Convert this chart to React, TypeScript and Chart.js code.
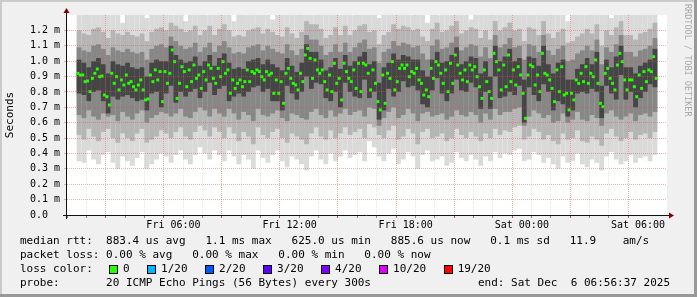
import { useEffect, useRef } from 'react';
import { Chart, registerables } from 'chart.js';

Chart.register(...registerables);

// time axis: hours since Fri 00:00
const X_MIN = 1;
const X_MAX = 31;
const SLOT_HOURS = 0.25; // smoke column width
const MED_HOURS = 0.125; // median sample spacing

const xTickHours = [6, 12, 18, 24, 30];
const xTickLabels = ['Fri 06:00', 'Fri 12:00', 'Fri 18:00', 'Sat 00:00', 'Sat 06:00'];
const yTickLabels = ['0.0  ', '0.1 m', '0.2 m', '0.3 m', '0.4 m', '0.5 m', '0.6 m', '0.7 m', '0.8 m', '0.9 m', '1.0 m', '1.1 m', '1.2 m'];

// round trip times in microseconds
const medianRtt = [
  921, 910, 910, 867, 871, 802, 888, 921, 949, 899, 903, 780, 769, 715, 921, 856, 899, 813, 878, 845,
  910, 856, 867, 834, 813, 845, 878, 813, 748, 754, 910, 867, 943, 878, 932, 737, 932, 856, 921, 1073,
  997, 758, 856, 964, 932, 834, 943, 867, 975, 888, 910, 823, 932, 878, 975, 953, 888, 856, 953, 899,
  997, 921, 943, 791, 878, 823, 856, 878, 834, 867, 943, 867, 932, 921, 943, 932, 899, 878, 932, 910,
  921, 791, 878, 791, 867, 726, 921, 953, 888, 856, 845, 813, 921, 867, 1040, 1083, 1018, 888, 1008, 943,
  921, 943, 867, 813, 910, 802, 986, 856, 888, 748, 986, 932, 888, 867, 943, 823, 986, 802, 986, 975,
  921, 813, 943, 856, 737, 683, 910, 726, 921, 888, 997, 813, 867, 953, 975, 953, 975, 899, 932, 921,
  953, 878, 856, 780, 813, 769, 953, 888, 997, 975, 921, 856, 943, 802, 986, 856, 1040, 975, 921, 878,
  943, 867, 975, 943, 964, 899, 834, 758, 943, 867, 802, 758, 1051, 997, 943, 813, 975, 834, 1040, 867,
  943, 845, 964, 910, 791, 628, 910, 975, 964, 845, 910, 802, 1051, 921, 910, 878, 823, 737, 943, 802,
  964, 780, 791, 683, 791, 748, 878, 856, 921, 867, 964, 856, 921, 899, 1008, 856, 726, 704, 921, 953,
  888, 856, 813, 975, 1051, 997, 878, 813, 878, 878, 834, 769, 910, 823, 932, 867, 943, 932, 1029, 888,
];

const smokeMin = [
  350, 340, 420, 360, 330, 390, 410, 340, 300, 380, 350, 320, 370, 410, 300, 330, 360, 400, 380, 340,
  390, 420, 360, 330, 390, 440, 400, 360, 420, 390, 350, 420, 380, 330, 390, 360, 300, 420, 370, 340,
  390, 420, 350, 310, 380, 360, 330, 290, 380, 420, 360, 330, 400, 350, 380, 420, 370, 390, 410, 350,
  480, 440, 380, 350, 400, 430, 330, 360, 410, 380, 300, 390, 420, 350, 360, 380, 320, 340, 410, 370,
  350, 390, 360, 320, 380, 350, 410, 370, 400, 390, 420, 430, 350, 360, 410, 390, 340, 370, 330, 300,
  380, 340, 350, 400, 330, 310, 360, 340, 290, 380, 410, 360, 330, 350, 390, 340, 370, 380, 350, 390,
];
const smokeP10 = [
  520, 490, 560, 510, 480, 540, 560, 500, 470, 530, 500, 480, 530, 560, 470, 490, 510, 550, 530, 500,
  540, 570, 510, 490, 540, 580, 550, 510, 570, 540, 500, 570, 530, 480, 540, 510, 460, 570, 520, 500,
  540, 560, 500, 470, 530, 510, 490, 460, 530, 570, 510, 490, 550, 500, 530, 570, 520, 540, 560, 500,
  590, 570, 520, 500, 550, 580, 490, 510, 560, 530, 460, 540, 560, 500, 510, 530, 480, 500, 560, 520,
  500, 540, 510, 480, 530, 500, 560, 520, 550, 540, 570, 580, 490, 510, 560, 540, 490, 520, 480, 460,
  530, 490, 500, 550, 480, 470, 510, 490, 450, 530, 560, 510, 480, 500, 540, 490, 520, 530, 500, 540,
];
const smokeP25 = [
  650, 630, 680, 640, 620, 660, 640, 650, 610, 670, 640, 620, 660, 680, 600, 630, 650, 670, 660, 640,
  660, 690, 640, 630, 670, 700, 680, 640, 690, 660, 640, 690, 660, 620, 670, 650, 610, 690, 650, 640,
  660, 680, 630, 610, 660, 650, 630, 620, 670, 690, 650, 630, 680, 640, 660, 690, 650, 670, 680, 640,
  700, 690, 580, 630, 670, 700, 630, 650, 690, 660, 610, 660, 670, 640, 650, 660, 620, 640, 680, 650,
  640, 670, 650, 600, 660, 620, 690, 650, 670, 670, 690, 700, 580, 640, 680, 660, 630, 650, 600, 610,
  660, 600, 620, 670, 620, 610, 650, 630, 580, 660, 680, 640, 620, 640, 660, 610, 650, 660, 640, 670,
];
const smokeP40 = [
  790, 780, 740, 800, 810, 740, 660, 770, 750, 770, 780, 760, 740, 750, 680, 790, 800, 700, 790, 840,
  730, 800, 770, 800, 820, 760, 800, 860, 780, 820, 840, 740, 770, 790, 770, 800, 830, 840, 800, 820,
  740, 740, 680, 840, 790, 750, 800, 900, 820, 860, 850, 760, 740, 800, 700, 860, 800, 770, 760, 880,
  760, 800, 620, 680, 820, 770, 800, 870, 830, 840, 810, 720, 700, 810, 890, 790, 740, 790, 880, 810,
  800, 860, 830, 690, 800, 690, 900, 760, 770, 800, 780, 840, 600, 830, 780, 740, 850, 800, 680, 740,
  720, 640, 680, 790, 800, 790, 820, 800, 630, 840, 790, 750, 910, 750, 800, 700, 760, 800, 850, 830,
];
const smokeP60 = [
  1010, 990, 960, 1000, 1020, 980, 920, 1000, 980, 970, 990, 960, 950, 960, 900, 990, 1010, 1000, 1000, 1100,
  1040, 1010, 990, 1000, 1030, 970, 1000, 1040, 970, 1020, 1050, 990, 950, 960, 950, 1000, 1010, 1020, 980, 1010,
  980, 960, 940, 1020, 970, 930, 990, 1110, 1060, 1060, 1010, 940, 960, 1020, 950, 1040, 970, 1000, 1030, 1060,
  980, 1000, 860, 960, 990, 1050, 1010, 1040, 1030, 1010, 1010, 940, 900, 1010, 1060, 990, 1000, 1040, 1090, 980,
  1000, 1030, 1020, 920, 1000, 900, 1100, 1000, 1030, 1080, 1000, 1020, 880, 1030, 1020, 970, 1100, 980, 920, 990,
  1010, 880, 880, 950, 980, 1020, 980, 1060, 840, 1010, 960, 1030, 1100, 960, 960, 920, 970, 990, 1010, 1080,
];
const smokeP75 = [
  1090, 1070, 1060, 1100, 1110, 1080, 1040, 1090, 1070, 1060, 1080, 1060, 1050, 1060, 1010, 1080, 1100, 1110, 1090, 1160,
  1130, 1100, 1080, 1090, 1120, 1060, 1090, 1120, 1060, 1100, 1130, 1090, 1050, 1060, 1050, 1090, 1100, 1110, 1070, 1100,
  1080, 1060, 1050, 1110, 1070, 1040, 1080, 1170, 1140, 1140, 1100, 1040, 1060, 1110, 1060, 1120, 1060, 1090, 1120, 1140,
  1080, 1090, 990, 1060, 1080, 1130, 1100, 1120, 1110, 1090, 1100, 1050, 1010, 1100, 1140, 1080, 1090, 1120, 1160, 1070,
  1090, 1110, 1100, 1030, 1090, 1020, 1170, 1090, 1110, 1150, 1090, 1100, 1010, 1110, 1100, 1060, 1170, 1070, 1040, 1080,
  1100, 1000, 1010, 1050, 1070, 1100, 1070, 1140, 980, 1090, 1060, 1110, 1170, 1060, 1060, 1030, 1070, 1080, 1100, 1150,
];
const smokeP90 = [
  1200, 1180, 1170, 1210, 1220, 1190, 1150, 1200, 1180, 1170, 1190, 1170, 1160, 1180, 1130, 1190, 1210, 1220, 1200, 1250,
  1230, 1210, 1190, 1200, 1230, 1170, 1200, 1230, 1170, 1210, 1240, 1200, 1160, 1170, 1160, 1200, 1210, 1220, 1180, 1210,
  1190, 1170, 1160, 1220, 1180, 1150, 1190, 1260, 1240, 1240, 1210, 1150, 1170, 1220, 1170, 1230, 1170, 1200, 1230, 1240,
  1190, 1200, 1110, 1170, 1190, 1240, 1210, 1230, 1220, 1200, 1210, 1160, 1130, 1210, 1250, 1190, 1200, 1230, 1260, 1180,
  1200, 1220, 1210, 1150, 1200, 1140, 1260, 1200, 1220, 1250, 1200, 1210, 1130, 1220, 1210, 1170, 1260, 1180, 1150, 1190,
  1210, 1120, 1130, 1160, 1180, 1210, 1180, 1240, 1100, 1200, 1170, 1220, 1260, 1170, 1170, 1140, 1180, 1190, 1210, 1250,
];
const smokeMax = [
  1300, 1300, 1300, 1300, 1300, 1300, 1300, 1300, 1300, 1250, 1300, 1300, 1300, 1300, 1280, 1300, 1300, 1300, 1300, 1300,
  1300, 1300, 1260, 1300, 1300, 1300, 1300, 1300, 1300, 1300, 1300, 1300, 1260, 1300, 1300, 1300, 1300, 1300, 1300, 1300,
  1270, 1300, 1300, 1300, 1300, 1300, 1300, 1300, 1300, 1300, 1300, 1300, 1300, 1300, 1300, 1300, 1300, 1300, 1300, 1300,
  1300, 1300, 1280, 1300, 1300, 1300, 1300, 1300, 1300, 1300, 1300, 1300, 1250, 1300, 1300, 1300, 1300, 1300, 1300, 1300,
  1300, 1270, 1300, 1300, 1300, 1300, 1300, 1300, 1300, 1300, 1300, 1300, 1300, 1300, 1300, 1300, 1300, 1300, 1300, 1300,
  1300, 1260, 1300, 1300, 1300, 1300, 1300, 1300, 1300, 1300, 1280, 1300, 1300, 1300, 1300, 1300, 1300, 1300, 1300, 1300,
];

const legendLine1 = 'median rtt:  883.4 us avg   1.1 ms max   625.0 us min   885.6 us now   0.1 ms sd   11.9    am/s';
const legendLine2 = 'packet loss: 0.00 % avg   0.00 % max   0.00 % min   0.00 % now';
const legendLine3 = 'loss color:';
const lossLabels = ['0', '1/20', '2/20', '3/20', '4/20', '10/20', '19/20'];
const lossColors = ['#26ff00', '#00b8ff', '#0059ff', '#5e00ff', '#7e00ff', '#dd00ff', '#ff0000'];
const probeLabel = 'probe:       20 ICMP Echo Pings (56 Bytes) every 300s';
const endLabel = 'end: Sat Dec  6 06:56:37 2025';
const yTitle = 'Seconds';
const watermark = 'RRDTOOL / TOBI OETIKER';

const MGRID = 'rgba(225,80,80,0.45)';
const GRID = 'rgba(150,150,150,0.25)';
const CLEAR = 'rgba(0,0,0,0)';
const MONO = '"DejaVu Sans Mono", monospace';

const band = (lo: number[], hi: number[]) =>
  lo.map((v, i) => ({ x: X_MIN + SLOT_HOURS * (i + 0.5), y: [v, hi[i]] }));

const rrdPlugin = {
  id: 'rrdDecor',
  beforeDraw(chart: any) {
    const { ctx, chartArea: a } = chart;
    ctx.save();
    ctx.fillStyle = '#ffffff';
    ctx.fillRect(a.left, a.top, a.right - a.left, a.bottom - a.top);
    ctx.restore();
  },
  afterDraw(chart: any) {
    const { ctx, chartArea: a } = chart;
    ctx.save();
    ctx.strokeStyle = '#111111';
    ctx.lineWidth = 1;
    ctx.beginPath();
    ctx.moveTo(a.left - 4, a.bottom + 0.5);
    ctx.lineTo(a.right + 3, a.bottom + 0.5);
    ctx.moveTo(a.left - 0.5, a.bottom + 4);
    ctx.lineTo(a.left - 0.5, a.top - 3);
    ctx.stroke();
    ctx.fillStyle = '#7f0000';
    ctx.beginPath();
    ctx.moveTo(a.right + 2, a.bottom - 2.5);
    ctx.lineTo(a.right + 7, a.bottom + 0.5);
    ctx.lineTo(a.right + 2, a.bottom + 3.5);
    ctx.closePath();
    ctx.fill();
    ctx.beginPath();
    ctx.moveTo(a.left - 3.5, a.top - 2);
    ctx.lineTo(a.left - 0.5, a.top - 7);
    ctx.lineTo(a.left + 2.5, a.top - 2);
    ctx.closePath();
    ctx.fill();
    ctx.restore();
  },
};

export default function App() {
  const ref = useRef<HTMLCanvasElement | null>(null);

  useEffect(() => {
    const canvas = ref.current;
    if (!canvas) return;
    const medPoints = medianRtt.map((v, i) => ({ x: X_MIN + MED_HOURS * (i + 0.5), y: v }));
    const chart = new Chart(canvas, {
      type: 'bar',
      data: {
        datasets: [
          {
            type: 'line',
            data: medPoints,
            showLine: false,
            pointStyle: 'rect',
            pointRadius: 2.1,
            pointHoverRadius: 2.1,
            pointBorderWidth: 0,
            pointBackgroundColor: '#26ff00',
            order: 0,
          } as any,
          { data: band(smokeP40, smokeP60), backgroundColor: '#454545', order: 1 } as any,
          { data: band(smokeP25, smokeP75), backgroundColor: '#878787', order: 2 } as any,
          { data: band(smokeP10, smokeP90), backgroundColor: '#b5b5b5', order: 3 } as any,
          { data: band(smokeMin, smokeMax), backgroundColor: '#dadada', order: 4 } as any,
        ],
      },
      options: {
        animation: false,
        responsive: false,
        events: [],
        datasets: {
          bar: { grouped: false, barPercentage: 1, categoryPercentage: 1, inflateAmount: 0, borderWidth: 0 } as any,
        },
        layout: { padding: { left: 0, top: 15, right: 30, bottom: 62 } },
        plugins: { legend: { display: false }, tooltip: { enabled: false }, title: { display: false } },
        scales: {
          x: {
            type: 'linear',
            min: X_MIN,
            max: X_MAX,
            afterFit: (s: any) => { s.height = 20; },
            ticks: {
              stepSize: 1,
              autoSkip: false,
              maxRotation: 0,
              padding: 1,
              color: '#000',
              font: { family: MONO, size: 10 },
              callback: (v: any) => {
                const k = xTickHours.indexOf(Number(v));
                return k >= 0 ? xTickLabels[k] : '';
              },
            },
            grid: {
              z: 1,
              lineWidth: 1,
              drawTicks: true,
              tickLength: 3,
              borderDash: [1, 1],
              color: (c: any) => {
                const v = c.tick ? c.tick.value : null;
                if (v == null || v <= X_MIN || v >= X_MAX) return CLEAR;
                return v % 3 === 0 ? MGRID : GRID;
              },
              tickColor: (c: any) => {
                const v = c.tick ? c.tick.value : null;
                if (v == null || v >= X_MAX) return CLEAR;
                return v % 3 === 0 ? 'rgba(130,30,30,0.7)' : 'rgba(60,60,60,0.6)';
              },
            } as any,
            border: { display: false, dash: [1, 1] } as any,
          },
          y: {
            type: 'linear',
            min: 0,
            max: 1300,
            afterFit: (s: any) => { s.width = 67; },
            ticks: {
              stepSize: 100,
              padding: 4,
              color: '#000',
              font: { family: MONO, size: 10 },
              callback: (v: any) => {
                const k = Math.round(Number(v) / 100);
                return yTickLabels[k] ?? '';
              },
            },
            grid: {
              z: 1,
              lineWidth: 1,
              drawTicks: true,
              tickLength: 3,
              borderDash: [1, 1],
              color: (c: any) => {
                const v = c.tick ? c.tick.value : null;
                if (v == null || v <= 0 || v >= 1300) return CLEAR;
                return MGRID;
              },
              tickColor: (c: any) => {
                const v = c.tick ? c.tick.value : null;
                if (v == null || v >= 1300) return CLEAR;
                return MGRID;
              },
            } as any,
            border: { display: false, dash: [1, 1] } as any,
          },
        },
      } as any,
      plugins: [rrdPlugin],
    });
    return () => chart.destroy();
  }, []);

  const txt: any = {
    position: 'absolute',
    fontFamily: MONO,
    fontSize: 11,
    lineHeight: '14px',
    whiteSpace: 'pre',
    color: '#000',
  };

  let cursor = 109;
  const lossItems = lossLabels.map((lab, i) => {
    const boxLeft = cursor;
    const textLeft = boxLeft + 14;
    cursor = textLeft + lab.length * 6.62 + 17.5;
    return (
      <span key={lab}>
        <span
          style={{
            position: 'absolute',
            left: boxLeft,
            top: 265,
            width: 7,
            height: 7,
            border: '1px solid #000',
            background: lossColors[i],
          }}
        />
        <span style={{ ...txt, left: textLeft, top: 262 }}>{lab}</span>
      </span>
    );
  });

  return (
    <div
      style={{
        position: 'absolute',
        left: 0,
        top: 0,
        width: 697,
        height: 297,
        background: '#f0f0f0',
        overflow: 'hidden',
      }}
    >
      <canvas ref={ref} width={697} height={297} style={{ position: 'absolute', left: 0, top: 0, width: 697, height: 297 }} />
      <div style={{ position: 'absolute', left: 0, top: 0, width: 697, height: 2, background: '#cbcbcb' }} />
      <div style={{ position: 'absolute', left: 0, top: 0, width: 2, height: 297, background: '#cbcbcb' }} />
      <div style={{ position: 'absolute', left: 0, top: 294, width: 697, height: 3, background: '#999999' }} />
      <div style={{ position: 'absolute', left: 694, top: 0, width: 3, height: 297, background: '#999999' }} />
      <div
        style={{
          ...txt,
          left: -40,
          top: 108,
          width: 100,
          height: 14,
          textAlign: 'center',
          transform: 'rotate(-90deg)',
        }}
      >
        {yTitle}
      </div>
      <div
        style={{
          position: 'absolute',
          left: 683,
          top: 4,
          width: 10,
          fontFamily: MONO,
          fontSize: 8.5,
          lineHeight: '10px',
          color: '#a8a8a8',
          whiteSpace: 'pre',
          writingMode: 'vertical-rl',
        }}
      >
        {watermark}
      </div>
      <div style={{ ...txt, left: 20, top: 234 }}>{legendLine1}</div>
      <div style={{ ...txt, left: 20, top: 248 }}>{legendLine2}</div>
      <div style={{ ...txt, left: 20, top: 262 }}>{legendLine3}</div>
      {lossItems}
      <div style={{ ...txt, left: 20, top: 276 }}>{probeLabel}</div>
      <div style={{ ...txt, left: 478, top: 276 }}>{endLabel}</div>
    </div>
  );
}
